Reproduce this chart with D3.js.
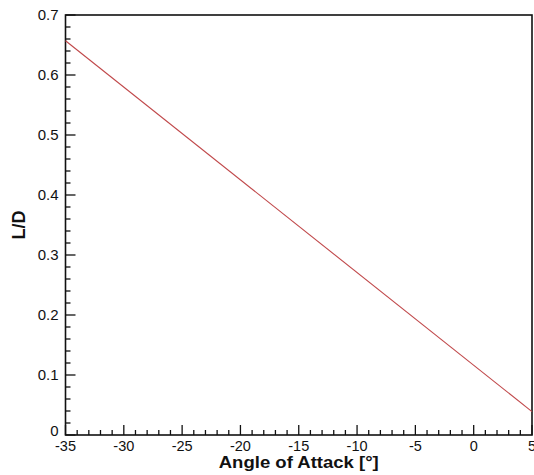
<!DOCTYPE html>
<html>
<head>
<meta charset="utf-8">
<script src="https://cdn.jsdelivr.net/npm/d3@7"></script>
<style>
  html, body { margin: 0; padding: 0; background: #fff; }
  svg { display: block; }
  text { font-family: "Liberation Sans", Arial, sans-serif; fill: #111; }
</style>
</head>
<body>
<svg id="chart" width="534" height="475"></svg>
<script>
// Lift-to-drag ratio versus angle of attack
const angle = [-35, 5];
const liftDrag = [0.657, 0.039];

const xTicks = [-35, -30, -25, -20, -15, -10, -5, 0, 5];
const yTicks = [0, 0.1, 0.2, 0.3, 0.4, 0.5, 0.6, 0.7];
const xTickLabels = ["-35", "-30", "-25", "-20", "-15", "-10", "-5", "0", "5"];
const yTickLabels = ["0", "0.1", "0.2", "0.3", "0.4", "0.5", "0.6", "0.7"];

const svg = d3.select("#chart");
const m = { left: 65.5, right: 532, top: 15, bottom: 435 };

const x = d3.scaleLinear().domain([-35, 5]).range([m.left, m.right]);
const y = d3.scaleLinear().domain([0, 0.7]).range([m.bottom, m.top]);

// Frame
svg.append("rect")
  .attr("x", m.left).attr("y", m.top)
  .attr("width", m.right - m.left).attr("height", m.bottom - m.top)
  .attr("fill", "none").attr("stroke", "#111").attr("stroke-width", 1.6);

// Minor ticks (inward)
const xMinor = d3.range(-35, 5.001, 1).filter(v => Math.abs(v % 5) > 1e-9);
const yMinor = d3.range(0, 0.7001, 0.02).filter(v => Math.abs((v * 100) % 10) > 1e-6 && Math.abs((v * 100) % 10 - 10) > 1e-6);

const ticks = svg.append("g").attr("stroke", "#111").attr("stroke-width", 1.3);
ticks.selectAll(".xmaj").data(xTicks).enter().append("line")
  .attr("x1", d => x(d)).attr("x2", d => x(d))
  .attr("y1", m.bottom).attr("y2", m.bottom - 10);
ticks.selectAll(".xmin").data(xMinor).enter().append("line")
  .attr("x1", d => x(d)).attr("x2", d => x(d))
  .attr("y1", m.bottom).attr("y2", m.bottom - 5);
ticks.selectAll(".ymaj").data(yTicks).enter().append("line")
  .attr("y1", d => y(d)).attr("y2", d => y(d))
  .attr("x1", m.left).attr("x2", m.left + 10);
ticks.selectAll(".ymin").data(yMinor).enter().append("line")
  .attr("y1", d => y(d)).attr("y2", d => y(d))
  .attr("x1", m.left).attr("x2", m.left + 5);

// Tick labels
svg.append("g").selectAll("text").data(xTicks).enter().append("text")
  .attr("x", d => x(d)).attr("y", m.bottom + 16)
  .attr("text-anchor", "middle").attr("font-size", 14.5)
  .text((d, i) => xTickLabels[i]);
svg.append("g").selectAll("text").data(yTicks).enter().append("text")
  .attr("x", m.left - 7).attr("y", d => y(d) + 5 - (d === 0 ? 4 : 0))
  .attr("text-anchor", "end").attr("font-size", 15)
  .text((d, i) => yTickLabels[i]);

// Axis titles
svg.append("text")
  .attr("x", (m.left + m.right) / 2).attr("y", 468)
  .attr("text-anchor", "middle").attr("font-size", 17).attr("font-weight", "bold")
  .attr("textLength", 160).attr("lengthAdjust", "spacingAndGlyphs")
  .text("Angle of Attack [\u00B0]");
svg.append("text")
  .attr("transform", `translate(25, ${(m.top + m.bottom) / 2}) rotate(-90)`)
  .attr("text-anchor", "middle").attr("font-size", 18).attr("font-weight", "bold")
  .text("L/D");

// Data line
const line = d3.line().x((d, i) => x(angle[i])).y(d => y(d));
svg.append("path")
  .datum(liftDrag)
  .attr("d", line)
  .attr("fill", "none").attr("stroke", "#c0484a").attr("stroke-width", 1.1);
</script>
</body>
</html>
